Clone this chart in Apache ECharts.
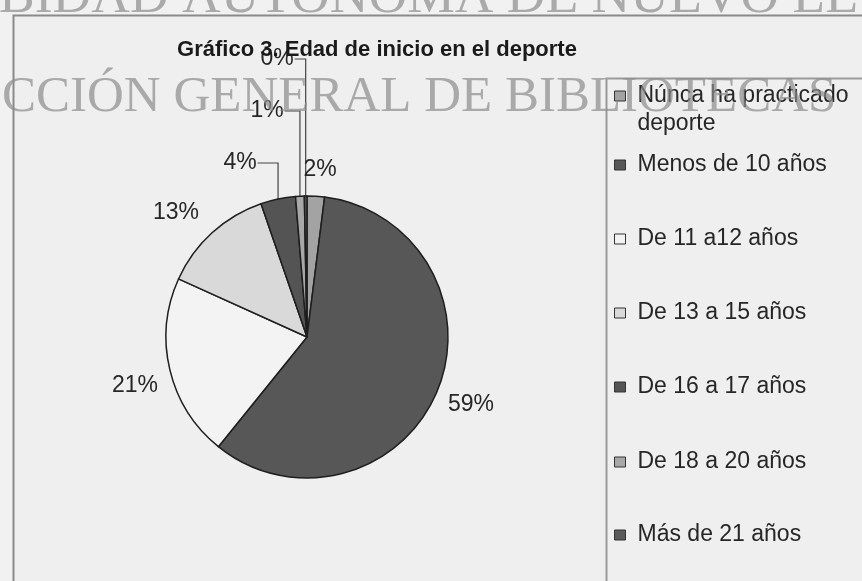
<!DOCTYPE html>
<html>
<head>
<meta charset="utf-8">
<script src="https://cdn.jsdelivr.net/npm/echarts@6/dist/echarts.min.js"></script>
<style>
html,body{margin:0;padding:0;background:#f1f1f1;}
#c{width:862px;height:581px;}
</style>
</head>
<body>
<div id="c"></div>
<script>
// ---- data ----
var titleText = 'Gráfico 3. Edad de inicio en el deporte';
var categories = ['Núnca ha practicado deporte', 'Menos de 10 años', 'De 11 a12 años', 'De 13 a 15 años', 'De 16 a 17 años', 'De 18 a 20 años', 'Más de 21 años'];
var legendLabels = ['Núnca ha practicado\ndeporte', 'Menos de 10 años', 'De 11 a12 años', 'De 13 a 15 años', 'De 16 a 17 años', 'De 18 a 20 años', 'Más de 21 años'];
var values = [2, 59, 21, 13, 4, 1, 0.3];
var watermarkTop = 'BIDAD AUTONOMA DE NUEVO LE';
var watermarkMid = 'CCIÓN GENERAL DE BIBLIOTECAS';

// ---- styles ----
var sliceColors = ['#a3a3a3', '#575757', '#f3f3f3', '#d9d9d9', '#545454', '#a8a8a8', '#5a5a5a'];
// label centre positions (layout only)
var labelPos = [[320, 170], [471, 405], [135, 386], [176, 213], [240, 163], [267, 111], [277, 59]];
var leader = [false, false, false, false, true, true, true];
var legendCenters = [96, 163, 237, 311, 385, 460, 533];

var chart = echarts.init(document.getElementById('c'), null, {renderer: 'canvas'});

var data = categories.map(function (c, i) {
  return {
    name: c,
    value: values[i],
    itemStyle: {color: sliceColors[i]},
    labelLine: {show: leader[i]}
  };
});

var legends = categories.map(function (c, i) {
  var twoLine = legendLabels[i].indexOf('\n') >= 0;
  return {
    data: [c],
    orient: 'vertical',
    left: 609,
    // two-line item: a leading blank line keeps the icon level with the first text line
    top: twoLine ? legendCenters[i] - 47 : legendCenters[i] - 17,
    icon: 'rect',
    itemWidth: 11,
    itemHeight: 10,
    itemGap: 0,
    selectedMode: false,
    itemStyle: {borderColor: '#333', borderWidth: 1},
    formatter: function () { return twoLine ? '\n' + legendLabels[i] : legendLabels[i]; },
    textStyle: {fontFamily: 'Liberation Sans', fontSize: 23, color: '#262626', lineHeight: 28, padding: [0, 0, 0, 7]}
  };
});

var option = {
  backgroundColor: '#f1f1f1',
  animation: false,
  title: {
    text: titleText,
    left: 372,
    textAlign: 'center',
    top: 34,
    textStyle: {fontFamily: 'Liberation Sans', fontWeight: 'bold', fontSize: 22, color: '#1a1a1a'}
  },
  legend: legends,
  graphic: [
    {type: 'rect', z: -10, shape: {x: 13.5, y: 15.5, width: 900, height: 600}, style: {fill: '#efefef', stroke: '#8a8a8a', lineWidth: 2}},
    {type: 'rect', z: -9, shape: {x: 606.5, y: 78.5, width: 300, height: 600}, style: {fill: 'none', stroke: '#9a9a9a', lineWidth: 2}},
    {type: 'text', z: 100, x: -1, y: -2, scaleX: 1.03, style: {text: watermarkTop, font: '52px "Liberation Serif"', verticalAlign: 'middle', fill: 'rgba(140,140,140,0.7)'}},
    {type: 'text', z: 100, x: 2, y: 98, style: {text: watermarkMid, font: '51px "Liberation Serif"', verticalAlign: 'middle', fill: 'rgba(140,140,140,0.7)'}}
  ],
  series: [{
    type: 'pie',
    center: [307, 337],
    radius: 141,
    startAngle: 90,
    clockwise: true,
    minAngle: 0,
    avoidLabelOverlap: false,
    percentPrecision: 0,
    itemStyle: {borderColor: '#1e1e1e', borderWidth: 1.5},
    label: {
      show: true,
      position: 'outside',
      formatter: '{d}%',
      fontFamily: 'Liberation Sans',
      fontSize: 23,
      color: '#262626'
    },
    labelLine: {show: true, length: 10, length2: 10, lineStyle: {color: '#444', width: 1.2}},
    labelLayout: function (params) {
      var i = params.dataIndex;
      var p = labelPos[i];
      var res = {x: p[0], y: p[1], align: 'center', verticalAlign: 'middle'};
      if (leader[i] && params.labelLinePoints) {
        var a = params.labelLinePoints[0];
        var rx = p[0] + params.labelRect.width / 2 + 1;
        res.labelLinePoints = [[a[0], a[1]], [a[0], p[1]], [rx, p[1]]];
      }
      return res;
    },
    data: data
  }]
};
chart.setOption(option);
</script>
</body>
</html>
